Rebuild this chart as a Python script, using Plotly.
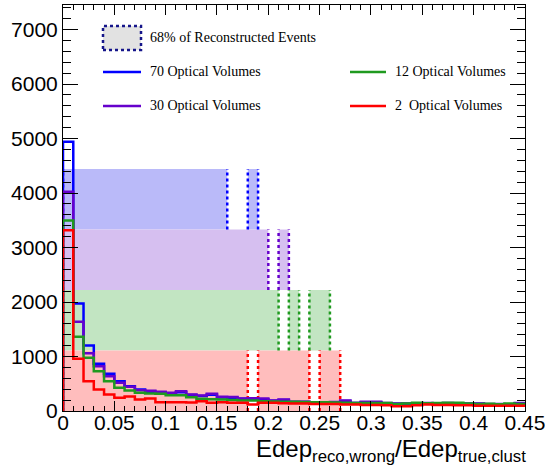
import plotly.graph_objects as go

# ---------------- data ----------------
bin_width = 0.01
n_bins = 45
edges = [round(i * bin_width, 2) for i in range(n_bins + 1)]

series_names = ["70 Optical Volumes", "30 Optical Volumes", "12 Optical Volumes", "2  Optical Volumes"]

vol70 = [4940, 1972, 1200, 866, 682, 547, 455, 394, 352, 340, 320, 345, 295, 275, 300, 250,
         245, 225, 220, 215, 190, 200, 165, 165, 155, 155, 160, 185, 145, 160, 160, 140,
         135, 135, 135, 140, 135, 140, 130, 135, 135, 125, 125, 118, 140]
vol30 = [4022, 1636, 1060, 822, 639, 517, 444, 380, 370, 352, 334, 363, 303, 284, 316, 260,
         255, 229, 235, 229, 193, 211, 169, 169, 160, 160, 165, 193, 149, 169, 169, 145,
         138, 138, 138, 145, 138, 145, 135, 138, 138, 128, 128, 120, 145]
vol12 = [3495, 1361, 976, 730, 547, 425, 376, 334, 320, 316, 290, 290, 253, 224, 215, 211,
         200, 193, 193, 180, 175, 172, 172, 165, 160, 160, 155, 150, 145, 145, 145, 145,
         130, 138, 150, 140, 145, 150, 150, 138, 130, 132, 125, 138, 128]
vol2 = [3318, 957, 547, 394, 303, 242, 265, 211, 229, 162, 162, 162, 155, 180, 150, 162,
        150, 150, 119, 150, 150, 140, 138, 138, 130, 130, 130, 119, 119, 112, 112, 105,
        88, 88, 105, 119, 112, 112, 105, 105, 95, 95, 95, 95, 95]
series_values = [vol70, vol30, vol12, vol2]

# 68% bands: y levels and filled x intervals
band_levels = [4440, 3330, 2220, 1110, 0]   # top of blue, ..., bottom of red
band_fill = [
    [(0.0, 0.16), (0.18, 0.19)],
    [(0.0, 0.20), (0.21, 0.22)],
    [(0.0, 0.21), (0.22, 0.23), (0.24, 0.26)],
    [(0.0, 0.18), (0.19, 0.24), (0.25, 0.27)],
]
band_lines = [
    [0.0, 0.16, 0.18, 0.19],
    [0.0, 0.20, 0.21, 0.22],
    [0.0, 0.21, 0.22, 0.23, 0.24, 0.26],
    [0.0, 0.18, 0.19, 0.24, 0.25, 0.27],
]

x_ticks = [round(0.05 * i, 2) for i in range(10)]
y_ticks = [1000 * i for i in range(8)]
legend_box_label = "68% of Reconstructed Events"

# ---------------- style ----------------
line_colors = ["#0000ff", "#6600cc", "#1f9a1f", "#ff0000"]
band_colors = ["#babaf9", "#d6bff0", "#c2e5c2", "#ffbdbd"]

W, H = 545, 473
L, R, T, B = 63, 20, 5, 62
pw, ph = W - L - R, H - T - B


def px2paper(px, py):
    return (px - L) / pw, (H - B - py) / ph


fig = go.Figure()
shapes = []
annotations = []

# bands
for i in range(4):
    y_top, y_bot = band_levels[i], band_levels[i + 1]
    for (x0, x1) in band_fill[i]:
        shapes.append(dict(type="rect", xref="x", yref="y", x0=x0, x1=x1, y0=y_bot, y1=y_top,
                           fillcolor=band_colors[i], line=dict(width=0), layer="below"))
for i in range(4):
    y_top, y_bot = band_levels[i], band_levels[i + 1]
    for xv in band_lines[i]:
        shapes.append(dict(type="line", xref="x", yref="y", x0=xv, x1=xv, y0=y_bot, y1=y_top,
                           line=dict(color=line_colors[i], width=2.5, dash="dot"), layer="below"))

# histograms
for name, vals, col in zip(series_names, series_values, line_colors):
    xs = [edges[0]] + edges[:-1] + [edges[-1]]
    ys = [0] + vals + [vals[-1]]
    fig.add_trace(go.Scatter(x=xs, y=ys, mode="lines", line=dict(color=col, width=2.5, shape="hv"),
                             name=name, showlegend=False, hoverinfo="skip"))

# custom legend
x0p, y0p = px2paper(103, 26)
x1p, y1p = px2paper(141, 50)
shapes.append(dict(type="rect", xref="paper", yref="paper", x0=x0p, x1=x1p, y0=y1p, y1=y0p,
                   fillcolor="#e2e2e2", line=dict(color="#15158a", width=2.5, dash="dot")))
tx, ty = px2paper(148, 38)
annotations.append(dict(xref="paper", yref="paper", x=tx, y=ty, text=legend_box_label,
                        showarrow=False, xanchor="left", yanchor="middle",
                        font=dict(family="Liberation Serif", size=14, color="black")))
leg_pos = [(103, 141, 148, 72), (103, 141, 148, 106), (350, 386, 393, 72), (350, 386, 393, 106)]
for (lx0, lx1, ltx, ly), name, col in zip(leg_pos, series_names, line_colors):
    a0, b0 = px2paper(lx0, ly)
    a1, _ = px2paper(lx1, ly)
    shapes.append(dict(type="line", xref="paper", yref="paper", x0=a0, x1=a1, y0=b0, y1=b0,
                       line=dict(color=col, width=2.5)))
    at, bt = px2paper(ltx, ly)
    annotations.append(dict(xref="paper", yref="paper", x=at, y=bt, text=name.replace("  ", "&nbsp; "),
                            showarrow=False, xanchor="left", yanchor="middle",
                            font=dict(family="Liberation Serif", size=14, color="black")))

# x title
xt, yt = px2paper(528, 433)
annotations.append(dict(xref="paper", yref="paper", x=xt, y=yt, xanchor="right", yanchor="top",
                        text="Edep<sub>reco,wrong</sub>/Edep<sub>true,clust</sub>", showarrow=False,
                        font=dict(family="Liberation Sans", size=24, color="black")))

axis_common = dict(showline=True, linecolor="black", linewidth=1, mirror="allticks",
                   ticks="inside", showgrid=False, zeroline=False, tickcolor="black",
                   automargin=False,
                   tickfont=dict(family="Liberation Sans", size=21, color="black"))

fig.update_layout(
    width=W, height=H,
    margin=dict(l=L, r=R, t=T, b=B, autoexpand=False),
    paper_bgcolor="white", plot_bgcolor="white",
    shapes=shapes, annotations=annotations,
    xaxis=dict(range=[0, 0.45002], tickvals=x_ticks, ticktext=[f"{v:g}" for v in x_ticks],
               ticklen=10, tickwidth=1, ticklabeloverflow="allow", ticklabelstandoff=-7,
               minor=dict(dtick=0.01, tick0=0, ticklen=5, ticks="inside", tickcolor="black"),
               **axis_common),
    yaxis=dict(range=[0, 7450], tickvals=y_ticks, ticktext=[str(v) for v in y_ticks],
               ticklen=15, tickwidth=1,
               minor=dict(dtick=200, tick0=0, ticklen=8, ticks="inside", tickcolor="black"),
               **axis_common),
)

fig.write_html("out.html")
